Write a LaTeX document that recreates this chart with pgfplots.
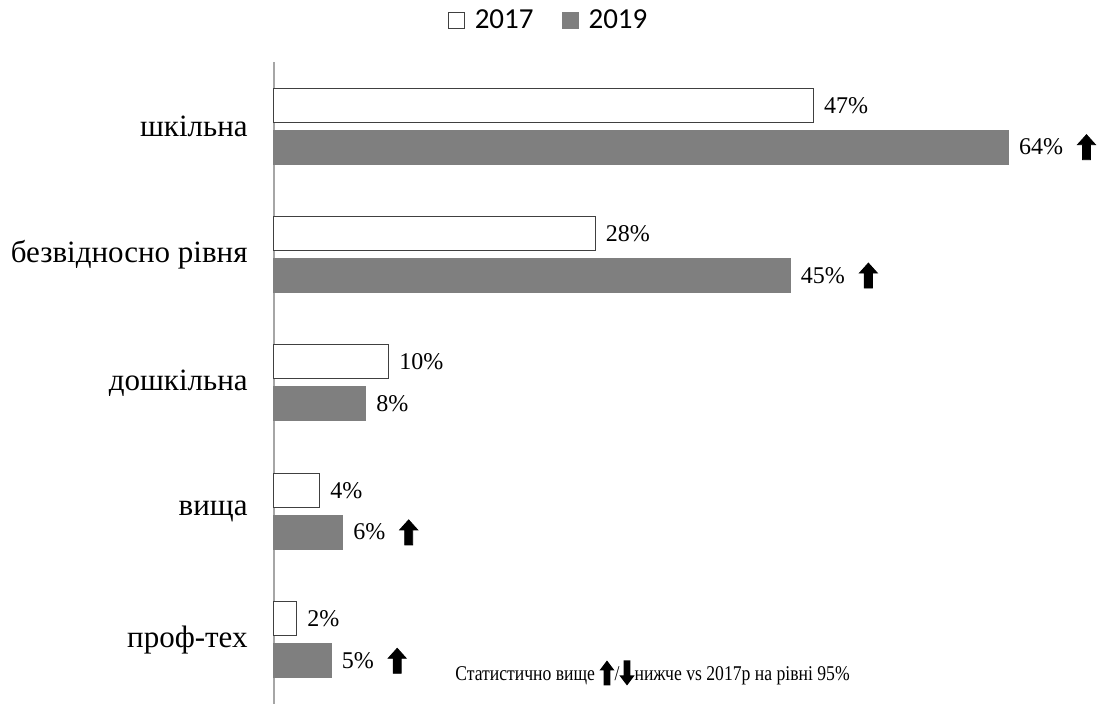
\documentclass[border=0pt]{standalone}
\usepackage{pgfplots}
\pgfplotsset{compat=1.18}
\usepackage{fontspec}
\setmainfont{Liberation Serif}
\newfontfamily\legfont{Carlito}
\definecolor{bargray}{HTML}{7F7F7F}
\definecolor{edgegray}{HTML}{404040}
\newcommand\uparr{\tikz[baseline=2.5pt]\fill[black] (-2pt,0pt) -- (2pt,0pt) -- (2pt,7.5pt) -- (4.5pt,7.5pt) -- (0pt,12.5pt) -- (-4.5pt,7.5pt) -- (-2pt,7.5pt) -- cycle;}
\newcommand\downarr{\tikz[baseline=2.5pt]\fill[black] (-2pt,12.5pt) -- (2pt,12.5pt) -- (2pt,5pt) -- (4.5pt,5pt) -- (0pt,0pt) -- (-4.5pt,5pt) -- (-2pt,5pt) -- cycle;}
\begin{document}
\begin{tikzpicture}
\useasboundingbox (0,0) rectangle (552pt,-352pt);
\begin{axis}[
  at={(137pt,-31pt)}, anchor=north west,
  scale only axis,
  width=415pt, height=321pt,
  xbar, bar width=17pt,
  xmin=0, xmax=72.3,
  ymin=-0.5, ymax=4.5,
  enlargelimits=false,
  axis x line=none,
  axis y line=left,
  y axis line style={-, draw=gray!70, line width=1pt},
  ytick={0,1,2,3,4},
  yticklabels={проф-тех, вища, дошкільна, безвідносно рівня, шкільна},
  major tick length=0pt,
  yticklabel style={font=\fontsize{15.5}{18}\selectfont, inner sep=0pt, xshift=-13pt},
  point meta=explicit symbolic,
  nodes near coords,
  every node near coord/.append style={font=\fontsize{12}{14}\selectfont, inner sep=0pt, xshift=5pt, anchor=west, black},
  clip=false,
  legend image code/.code={\draw[#1] (0pt,-4pt) rectangle (8pt,4pt);},
  legend style={at={(0.332,1.064)}, anchor=center, draw=none, legend columns=2,
    font=\legfont\fontsize{14.5}{16}\selectfont,
    /tikz/every odd column/.append style={column sep=3pt},
    /tikz/every even column/.append style={column sep=12pt}},
]
\addplot[draw=edgegray, fill=white, line width=0.5pt, bar shift=10.5pt] coordinates {
  (47,4) [47\%]
  (28,3) [28\%]
  (10,2) [10\%]
  (4,1) [4\%]
  (2,0) [2\%]
};
\addlegendentry{2017}
\addplot[draw=bargray, fill=bargray, line width=0.5pt, bar shift=-10.5pt] coordinates {
  (64,4) [{64\%\hspace{7pt}\uparr}]
  (45,3) [{45\%\hspace{7pt}\uparr}]
  (8,2) [8\%]
  (6,1) [{6\%\hspace{7pt}\uparr}]
  (5,0) [{5\%\hspace{7pt}\uparr}]
};
\addlegendentry{2019}
\end{axis}
\node[anchor=west, inner sep=0pt, xscale=0.84, transform shape, font=\fontsize{10.5}{12}\selectfont] at (227.5pt,-336.5pt)
  {Статистично вище \uparr/\downarr нижче vs 2017р на рівні 95\%};
\end{tikzpicture}
\end{document}
